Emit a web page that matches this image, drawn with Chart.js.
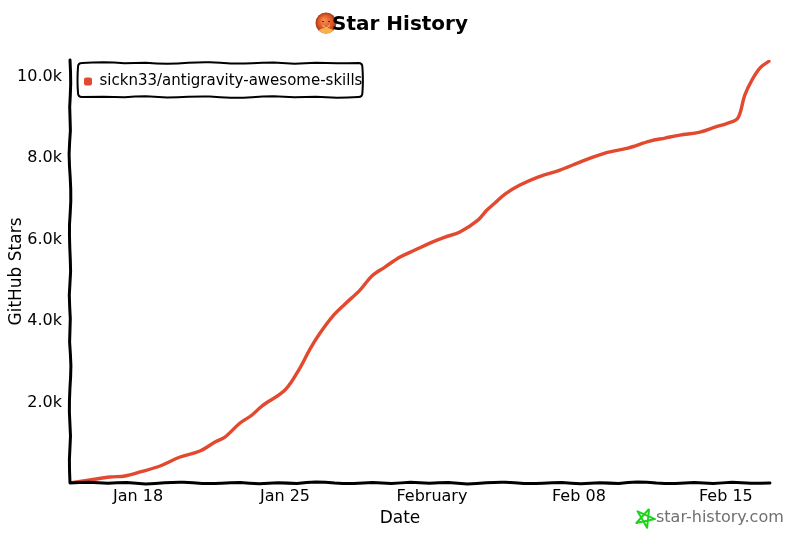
<!DOCTYPE html>
<html>
<head>
<meta charset="utf-8">
<title>Star History</title>
<script src="https://cdn.jsdelivr.net/npm/chart.js@4"></script>
<style>
  html, body { margin: 0; padding: 0; background: #fff; }
  canvas { display: block; }
</style>
</head>
<body>
<canvas id="grafico" width="800" height="534"></canvas>
<script>
// day of the year (Jan 18 = 18, Feb 1 = 32)
const days = [14.76, 15.71, 16.67, 17.38, 18.10, 19.05, 20.00, 20.95, 21.67, 22.14, 22.86, 23.43,
    23.90, 25.00, 25.71, 26.19, 26.67, 27.24, 27.86, 28.57, 29.14, 29.76, 30.48, 31.19, 31.90,
    32.62, 33.33, 34.19, 34.62, 35.00, 35.48, 36.19, 37.05, 38.10, 39.05, 40.24, 41.33, 42.38,
    43.10, 43.81, 44.76, 45.48, 46.10, 46.57, 46.90, 47.24, 47.62, 48.05];
const stars = [0, 74, 147, 172, 270, 417, 637, 784, 1005, 1127, 1470, 1667,
    1887, 2279, 2819, 3284, 3676, 4069, 4387, 4730, 5074, 5294, 5539, 5711, 5882,
    6029, 6152, 6446, 6691, 6863, 7083, 7304, 7500, 7672, 7868, 8088, 8211, 8382,
    8456, 8529, 8603, 8725, 8824, 8946, 9510, 9877, 10172, 10340];
const tickDays = [18, 25, 32, 39, 46];
const tickLabels = ['Jan 18', 'Jan 25', 'February', 'Feb 08', 'Feb 15'];
const yTicks = [2000, 4000, 6000, 8000, 10000];
const yLabels = ['2.0k', '4.0k', '6.0k', '8.0k', '10.0k'];
const serieNome = 'sickn33/antigravity-awesome-skills';

const COR_LINHA = '#e2492f';
const FONTE = '"DejaVu Sans", sans-serif';
// hand drawn look of the axes and the legend box
const TREMOR = [0.6, -0.7, 0.3, -0.4, 0.9, -0.2, -0.8, 0.5, 0.2, -0.6, 0.7, -0.3, 0.4, -0.9, 0.1, 0.6, -0.5];

function linhaTremida(ctx, x0, y0, x1, y1, passo, amp) {
    const len = Math.hypot(x1 - x0, y1 - y0);
    const n = Math.max(1, Math.round(len / passo));
    const nx = -(y1 - y0) / len;
    const ny = (x1 - x0) / len;
    let px = x0;
    let py = y0;
    for (let i = 1; i <= n; i++) {
        const t = i / n;
        const d = i === n ? 0 : TREMOR[i % TREMOR.length] * amp;
        const qx = x0 + (x1 - x0) * t + nx * d;
        const qy = y0 + (y1 - y0) * t + ny * d;
        ctx.quadraticCurveTo(px + (x1 - x0) / n * 0.5 + nx * d, py + (y1 - y0) / n * 0.5 + ny * d, qx, qy);
        px = qx;
        py = qy;
    }
}

function desenhaAvatar(ctx, cx, cy, r) {
    const g = ctx.createRadialGradient(cx - 2, cy - 3, 1, cx, cy, r);
    g.addColorStop(0, '#f58a4a');
    g.addColorStop(0.65, '#dd5424');
    g.addColorStop(1, '#9c3a1c');
    ctx.save();
    ctx.beginPath();
    ctx.arc(cx, cy, r, 0, Math.PI * 2);
    ctx.fillStyle = g;
    ctx.fill();
    ctx.clip();
    ctx.fillStyle = '#f6b04e';
    ctx.beginPath();
    ctx.ellipse(cx, cy + 9, 8, 4, 0, 0, Math.PI * 2);
    ctx.fill();
    ctx.fillStyle = '#5a2a1a';
    ctx.fillRect(cx - 4, cy - 2, 2, 1);
    ctx.fillRect(cx + 2, cy - 2, 2, 1);
    ctx.strokeStyle = '#f6c27a';
    ctx.lineWidth = 1;
    ctx.beginPath();
    ctx.arc(cx, cy + 1, 3.5, 0.2, Math.PI - 0.2);
    ctx.stroke();
    ctx.restore();
}

function desenhaEstrela(ctx, cx, cy, r) {
    ctx.save();
    ctx.strokeStyle = '#1ad51a';
    ctx.lineWidth = 2;
    ctx.lineJoin = 'round';
    ctx.beginPath();
    for (let i = 0; i <= 5; i++) {
        const a = -Math.PI / 2 + 0.42 + i * 4 * Math.PI / 5;
        const x = cx + Math.cos(a) * r;
        const y = cy + Math.sin(a) * r;
        if (i === 0) ctx.moveTo(x, y); else ctx.lineTo(x, y);
    }
    ctx.stroke();
    ctx.restore();
}

const decoracao = {
    id: 'decoracao',
    beforeDraw(chart) {
        // position 'chartArea' leaves the legend at the top of the canvas
        chart.legend.top = chart.chartArea.top;
        desenhaAvatar(chart.ctx, 326, 23, 10.5);
    },
    afterDraw(chart) {
        const ctx = chart.ctx;
        const { x, y } = chart.scales;
        const fimX = x.getPixelForValue(days[days.length - 1]) + 1;

        ctx.save();
        ctx.strokeStyle = '#000';
        ctx.lineCap = 'round';
        ctx.lineWidth = 3;
        ctx.beginPath();
        ctx.moveTo(x.left, y.top);
        linhaTremida(ctx, x.left, y.top, x.left, y.bottom, 24, 1);
        ctx.moveTo(x.left, y.bottom);
        linhaTremida(ctx, x.left, y.bottom, fimX, y.bottom, 19, 1);
        ctx.stroke();

        const hit = chart.legend.legendHitBoxes[0];
        const bx0 = x.left + 8;
        const by0 = y.top + 3;
        const bx1 = hit.left + hit.width;
        const by1 = y.top + 37;
        const r = 4;
        ctx.lineWidth = 2;
        ctx.beginPath();
        ctx.moveTo(bx0 + r, by0);
        linhaTremida(ctx, bx0 + r, by0, bx1 - r, by0, 22, 0.9);
        ctx.quadraticCurveTo(bx1, by0, bx1, by0 + r);
        linhaTremida(ctx, bx1, by0 + r, bx1, by1 - r, 13, 0.7);
        ctx.quadraticCurveTo(bx1, by1, bx1 - r, by1);
        linhaTremida(ctx, bx1 - r, by1, bx0 + r, by1, 22, 0.9);
        ctx.quadraticCurveTo(bx0, by1, bx0, by1 - r);
        linhaTremida(ctx, bx0, by1 - r, bx0, by0 + r, 13, 0.7);
        ctx.quadraticCurveTo(bx0, by0, bx0 + r, by0);
        ctx.stroke();
        ctx.restore();

        desenhaEstrela(ctx, 645, 518, 10);
        ctx.save();
        ctx.font = '16px ' + FONTE;
        ctx.fillStyle = '#707070';
        ctx.textAlign = 'left';
        ctx.textBaseline = 'middle';
        ctx.fillText('star-history.com', 656, 518);
        ctx.restore();
    }
};

new Chart(document.getElementById('grafico'), {
    type: 'line',
    data: {
        datasets: [{
            label: serieNome,
            data: days.map((d, i) => ({ x: d, y: stars[i] })),
            borderColor: COR_LINHA,
            backgroundColor: COR_LINHA,
            borderWidth: 3.4,
            pointRadius: 0,
            tension: 0.35,
            borderCapStyle: 'round',
            borderJoinStyle: 'round'
        }]
    },
    plugins: [decoracao],
    options: {
        responsive: false,
        animation: false,
        layout: { padding: 0 },
        scales: {
            x: {
                type: 'linear',
                min: 14.76,
                max: 49.53,
                grid: { display: false, drawTicks: false },
                border: { display: false },
                afterFit(axis) { axis.height = 26.6; },
                afterBuildTicks(axis) {
                    axis.ticks = tickDays.map(value => ({ value }));
                },
                ticks: {
                    color: '#000',
                    font: { family: FONTE, size: 16 },
                    padding: 4,
                    maxRotation: 0,
                    autoSkip: false,
                    callback: (value, index) => tickLabels[index]
                }
            },
            y: {
                min: 0,
                max: 10370,
                grid: { display: false, drawTicks: false },
                border: { display: false },
                afterFit(axis) { axis.width = 70; },
                afterBuildTicks(axis) {
                    axis.ticks = yTicks.map(value => ({ value }));
                },
                ticks: {
                    color: '#000',
                    padding: 8,
                    labelOffset: 1.5,
                    font: { family: FONTE, size: 16 },
                    callback: (value, index) => yLabels[index]
                },
                title: {
                    display: true,
                    text: 'GitHub Stars',
                    color: '#000',
                    font: { family: FONTE, size: 17 },
                    padding: { top: 6, bottom: 0 }
                }
            }
        },
        plugins: {
            title: {
                display: true,
                text: 'Star History',
                color: '#000',
                font: { family: FONTE, size: 20, weight: 'bold' },
                padding: { top: 13, bottom: 23 }
            },
            subtitle: {
                display: true,
                position: 'bottom',
                text: 'Date',
                color: '#000',
                font: { family: FONTE, size: 17 },
                padding: { top: -1, bottom: 5 }
            },
            legend: {
                display: true,
                position: 'chartArea',
                align: 'start',
                labels: {
                    color: '#000',
                    font: { family: FONTE, size: 15 },
                    boxWidth: 8,
                    boxHeight: 8,
                    useBorderRadius: true,
                    borderRadius: 2,
                    padding: 14,
                    generateLabels(chart) {
                        return Chart.defaults.plugins.legend.labels.generateLabels(chart)
                            .map(item => Object.assign(item, { lineWidth: 0 }));
                    }
                }
            },
            tooltip: { enabled: false }
        }
    }
});
</script>
</body>
</html>
